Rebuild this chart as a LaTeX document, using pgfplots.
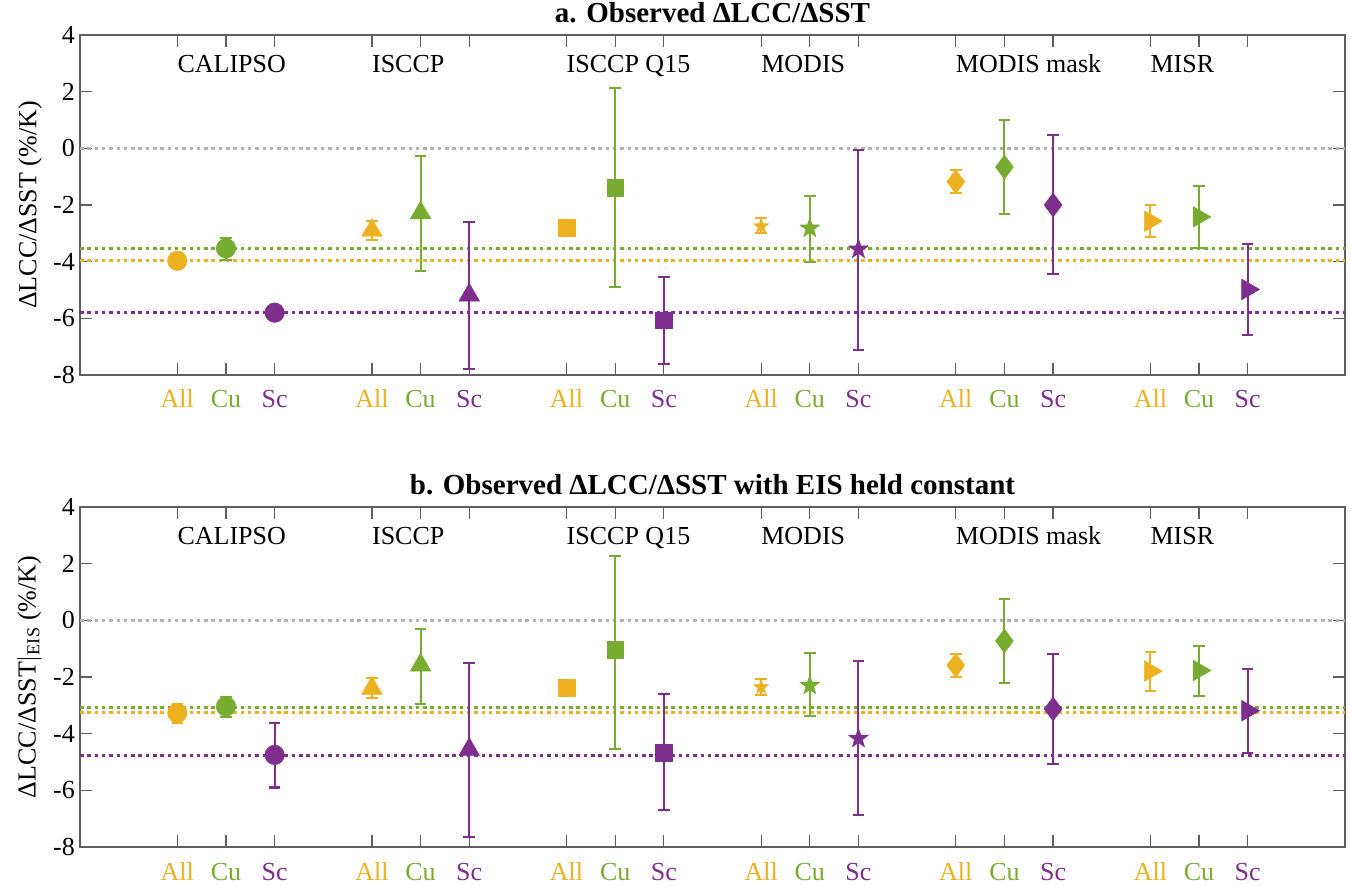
\documentclass[border=0pt]{standalone}
\usepackage{fontspec}
\setmainfont{Liberation Serif}
\usepackage{pgfplots}
\pgfplotsset{compat=1.18}
\definecolor{cAll}{RGB}{237,177,32}
\definecolor{cCu}{RGB}{119,172,48}
\definecolor{cSc}{RGB}{126,47,142}
\definecolor{cAx}{RGB}{95,95,95}
\definecolor{cZero}{RGB}{178,178,178}

\pgfdeclareplotmark{pstar}{%
  \pgfpathmoveto{\pgfpointpolar{90}{\pgfplotmarksize}}%
  \pgfpathlineto{\pgfpointpolar{126}{0.40\pgfplotmarksize}}%
  \pgfpathlineto{\pgfpointpolar{162}{\pgfplotmarksize}}%
  \pgfpathlineto{\pgfpointpolar{198}{0.40\pgfplotmarksize}}%
  \pgfpathlineto{\pgfpointpolar{234}{\pgfplotmarksize}}%
  \pgfpathlineto{\pgfpointpolar{270}{0.40\pgfplotmarksize}}%
  \pgfpathlineto{\pgfpointpolar{306}{\pgfplotmarksize}}%
  \pgfpathlineto{\pgfpointpolar{342}{0.40\pgfplotmarksize}}%
  \pgfpathlineto{\pgfpointpolar{18}{\pgfplotmarksize}}%
  \pgfpathlineto{\pgfpointpolar{54}{0.40\pgfplotmarksize}}%
  \pgfpathclose
  \pgfusepathqfillstroke
}

\newcommand{\fs}{\fontsize{26bp}{30bp}\selectfont}
\tikzset{grp/.style={anchor=base west, inner sep=0pt, font=\fs}}

\pgfplotsset{
  panel/.style={
    scale only axis, width=1265bp, height=340bp,
    xmin=0, xmax=26, ymin=-8, ymax=4,
    xtick={2,3,4,6,7,8,10,11,12,14,15,16,18,19,20,22,23,24},
    xticklabels={\textcolor{cAll}{All},\textcolor{cCu}{Cu},\textcolor{cSc}{Sc},
                 \textcolor{cAll}{All},\textcolor{cCu}{Cu},\textcolor{cSc}{Sc},
                 \textcolor{cAll}{All},\textcolor{cCu}{Cu},\textcolor{cSc}{Sc},
                 \textcolor{cAll}{All},\textcolor{cCu}{Cu},\textcolor{cSc}{Sc},
                 \textcolor{cAll}{All},\textcolor{cCu}{Cu},\textcolor{cSc}{Sc},
                 \textcolor{cAll}{All},\textcolor{cCu}{Cu},\textcolor{cSc}{Sc}},
    ytick={-8,-6,-4,-2,0,2,4},
    yticklabels={-8,-6,-4,-2,0,2,4},
    tick align=inside,
    major tick length=12bp,
    axis line style={cAx, line width=1.2bp},
    tick style={cAx, line width=1.2bp},
    xticklabel style={anchor=base, yshift=-33bp, inner sep=0pt, font=\fs},
    yticklabel style={anchor=east, inner sep=0pt, xshift=-5bp, font=\fs},
    ylabel style={at={(axis description cs:-0.030,0.5)}, anchor=south, inner sep=0pt, font=\fs},
    title style={font=\bfseries\fontsize{29bp}{33bp}\selectfont, at={(0.5,1)}, anchor=base, yshift=7bp, inner sep=0pt},
    clip=false,
  },
  refl/.style={line width=3bp, dash pattern=on 3.5bp off 3.8bp, no marks, forget plot},
  pt/.style={only marks, mark options={line join=round},
    error bars/y dir=both, error bars/y explicit,
    error bars/error bar style={line width=2bp, solid},
    error bars/error mark options={rotate=90, mark size=5.8bp, line width=2bp}},
  circ/.style={pt, mark=*, mark size=9.8bp},
  tri/.style={pt, mark=triangle*, mark size=12bp},
  sq/.style={pt, mark=square*, mark size=8.3bp},
  st/.style={pt, mark=pstar, mark size=10.5bp},
  dia/.style={pt, mark=diamond*, mark size=12bp},
  trir/.style={pt, mark=triangle*, mark size=12bp, mark options={rotate=-90, line join=round}},
}

\begin{document}
\begin{tikzpicture}
\useasboundingbox (0,0) rectangle (1351bp,886bp);

% ---------------- panel a ----------------
\begin{axis}[panel, at={(80bp,511bp)}, anchor=south west,
  title={a. Observed ΔLCC/ΔSST},
  ylabel={ΔLCC/ΔSST (\%/K)}]
\addplot[refl, cZero, line width=2.6bp] coordinates {(0,0) (26,0)};
\addplot[refl, cCu] coordinates {(0,-3.53) (26,-3.53)};
\addplot[refl, cAll] coordinates {(0,-3.97) (26,-3.97)};
\addplot[refl, cSc] coordinates {(0,-5.80) (26,-5.80)};
% CALIPSO
\addplot[circ, cAll] coordinates {(2,-3.97) += (0,0.20) -= (0,0.22)};
\addplot[circ, cCu]  coordinates {(3,-3.53) += (0,0.36) -= (0,0.40)};
\addplot[circ, cSc]  coordinates {(4,-5.80) += (0,0.10) -= (0,0.10)};
% ISCCP
\addplot[tri, cAll] coordinates {(6,-2.90) += (0,0.32) -= (0,0.33)};
\addplot[tri, cCu]  coordinates {(7,-2.28) += (0,2.00) -= (0,2.05)};
\addplot[tri, cSc]  coordinates {(8,-5.18) += (0,2.57) -= (0,2.62)};
% ISCCP Q15
\addplot[sq, cAll] coordinates {(10,-2.80) += (0,0.12) -= (0,0.12)};
\addplot[sq, cCu]  coordinates {(11,-1.38) += (0,3.50) -= (0,3.50)};
\addplot[sq, cSc]  coordinates {(12,-6.07) += (0,1.54) -= (0,1.53)};
% MODIS
\addplot[st, cAll, mark size=8bp] coordinates {(14,-2.75) += (0,0.28) -= (0,0.25)};
\addplot[st, cCu]  coordinates {(15,-2.82) += (0,1.14) -= (0,1.20)};
\addplot[st, cSc]  coordinates {(16,-3.56) += (0,3.50) -= (0,3.55)};
% MODIS mask
\addplot[dia, cAll] coordinates {(18,-1.18) += (0,0.40) -= (0,0.39)};
\addplot[dia, cCu]  coordinates {(19,-0.66) += (0,1.66) -= (0,1.66)};
\addplot[dia, cSc]  coordinates {(20,-2.00) += (0,2.46) -= (0,2.43)};
% MISR
\addplot[trir, cAll] coordinates {(22,-2.57) += (0,0.56) -= (0,0.56)};
\addplot[trir, cCu]  coordinates {(23,-2.42) += (0,1.08) -= (0,1.10)};
\addplot[trir, cSc]  coordinates {(24,-4.98) += (0,1.60) -= (0,1.62)};
\node[grp] at (axis cs:2,2.67) {CALIPSO};
\node[grp] at (axis cs:6,2.67) {ISCCP};
\node[grp] at (axis cs:10,2.67) {ISCCP Q15};
\node[grp] at (axis cs:14,2.67) {MODIS};
\node[grp] at (axis cs:18,2.67) {MODIS mask};
\node[grp] at (axis cs:22,2.67) {MISR};
\end{axis}

% ---------------- panel b ----------------
\begin{axis}[panel, at={(80bp,39bp)}, anchor=south west,
  title={b. Observed ΔLCC/ΔSST with EIS held constant},
  ylabel={ΔLCC/ΔSST$|$\textsubscript{EIS} (\%/K)}]
\addplot[refl, cZero, line width=2.6bp] coordinates {(0,0) (26,0)};
\addplot[refl, cCu] coordinates {(0,-3.07) (26,-3.07)};
\addplot[refl, cAll] coordinates {(0,-3.27) (26,-3.27)};
\addplot[refl, cSc] coordinates {(0,-4.76) (26,-4.76)};
% CALIPSO
\addplot[circ, cAll] coordinates {(2,-3.27) += (0,0.32) -= (0,0.36)};
\addplot[circ, cCu]  coordinates {(3,-3.04) += (0,0.35) -= (0,0.38)};
\addplot[circ, cSc]  coordinates {(4,-4.75) += (0,1.12) -= (0,1.15)};
% ISCCP
\addplot[tri, cAll] coordinates {(6,-2.40) += (0,0.36) -= (0,0.34)};
\addplot[tri, cCu]  coordinates {(7,-1.58) += (0,1.28) -= (0,1.37)};
\addplot[tri, cSc]  coordinates {(8,-4.56) += (0,3.05) -= (0,3.09)};
% ISCCP Q15
\addplot[sq, cAll] coordinates {(10,-2.38) += (0,0.10) -= (0,0.10)};
\addplot[sq, cCu]  coordinates {(11,-1.03) += (0,3.30) -= (0,3.51)};
\addplot[sq, cSc]  coordinates {(12,-4.68) += (0,2.08) -= (0,2.02)};
% MODIS
\addplot[st, cAll, mark size=8bp] coordinates {(14,-2.36) += (0,0.30) -= (0,0.26)};
\addplot[st, cCu]  coordinates {(15,-2.30) += (0,1.16) -= (0,1.09)};
\addplot[st, cSc]  coordinates {(16,-4.17) += (0,2.75) -= (0,2.70)};
% MODIS mask
\addplot[dia, cAll] coordinates {(18,-1.59) += (0,0.41) -= (0,0.41)};
\addplot[dia, cCu]  coordinates {(19,-0.73) += (0,1.47) -= (0,1.49)};
\addplot[dia, cSc]  coordinates {(20,-3.13) += (0,1.93) -= (0,1.94)};
% MISR
\addplot[trir, cAll] coordinates {(22,-1.79) += (0,0.67) -= (0,0.69)};
\addplot[trir, cCu]  coordinates {(23,-1.77) += (0,0.86) -= (0,0.91)};
\addplot[trir, cSc]  coordinates {(24,-3.19) += (0,1.48) -= (0,1.49)};
\node[grp] at (axis cs:2,2.67) {CALIPSO};
\node[grp] at (axis cs:6,2.67) {ISCCP};
\node[grp] at (axis cs:10,2.67) {ISCCP Q15};
\node[grp] at (axis cs:14,2.67) {MODIS};
\node[grp] at (axis cs:18,2.67) {MODIS mask};
\node[grp] at (axis cs:22,2.67) {MISR};
\end{axis}
\end{tikzpicture}
\end{document}
